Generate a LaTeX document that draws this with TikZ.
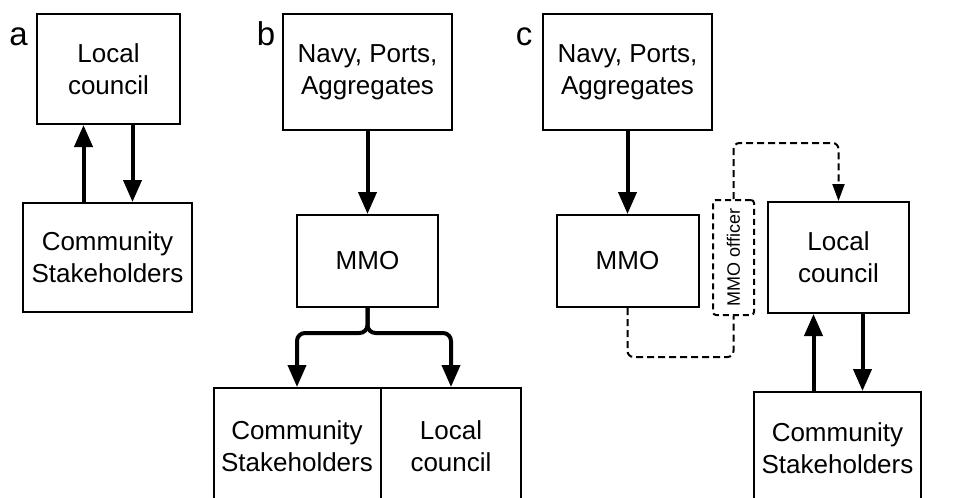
\documentclass[tikz,border=0pt]{standalone}
\usepackage{fontspec}
\setmainfont{Liberation Sans}
\usetikzlibrary{arrows.meta,positioning}

\begin{document}
\begin{tikzpicture}[x=1pt, y=-1pt,
    block/.style={rectangle, draw, line width=2pt, align=center, inner sep=0pt, font=\fontsize{26}{32}\selectfont},
    officer/.style={block, dash pattern=on 6pt off 4pt, rounded corners=3pt},
    arrow/.style={-{Triangle[length=22pt, width=18pt]}, line width=4pt},
    dashline/.style={line width=2pt, dash pattern=on 7pt off 4pt, rounded corners=6pt},
    dasharrow/.style={dashline, -{Triangle[length=17pt, width=12pt]}},
    panel/.style={anchor=base, font=\fontsize{33}{36}\selectfont}]

    \clip (0,0) rectangle (970,498);

    % panel a
    \node[panel] (labA) at (18.5,45) {a};
    \node[block, minimum width=143pt, minimum height=110pt] (councilA) at (108.5,69) {Local\\council};
    \node[block, minimum width=169pt, minimum height=109pt] (stakeA) at (107.5,257.5) {Community\\Stakeholders};
    \draw[arrow] ([xshift=-25pt]councilA.south |- stakeA.north) -- ([xshift=-25pt]councilA.south);
    \draw[arrow] ([xshift=24pt]councilA.south) -- ([xshift=24pt]councilA.south |- stakeA.north);

    % panel b
    \node[panel] (labB) at (266,45) {b};
    \node[block, minimum width=169pt, minimum height=116pt] (navyB) at (367.5,72) {Navy, Ports,\\Aggregates};
    \node[block, minimum width=141pt, minimum height=92pt] (mmoB) at (367.5,261) {MMO};
    \node[block, minimum width=167pt, minimum height=116pt] (stakeB) at (297,446) {Community\\Stakeholders};
    \node[block, minimum width=140pt, minimum height=116pt] (councilB) at (451,446) {Local\\council};
    \coordinate (splitB) at (367.5,333);
    \draw[arrow] (navyB) -- (mmoB);
    \draw[arrow, rounded corners=8pt] (mmoB.south) -- (splitB) -| (stakeB.north);
    \draw[arrow, rounded corners=8pt] (mmoB.south) -- (splitB) -| (councilB.north);

    % panel c
    \node[panel] (labC) at (524,45) {c};
    \node[block, minimum width=169pt, minimum height=116pt] (navyC) at (627.5,72) {Navy, Ports,\\Aggregates};
    \node[block, minimum width=142pt, minimum height=92pt] (mmoC) at (627.5,261) {MMO};
    \node[officer, minimum width=41pt, minimum height=115pt] (officerC) at (733.5,257.5) {\rotatebox{90}{\fontsize{18}{20}\selectfont MMO officer}};
    \node[block, minimum width=141pt, minimum height=111pt] (councilC) at (838.5,257.5) {Local\\council};
    \node[block, minimum width=167pt, minimum height=113pt] (stakeC) at (837.5,448.5) {Community\\Stakeholders};
    \draw[arrow] (navyC) -- (mmoC);
    \draw[dashline] (mmoC.south) -- ++(0,49) -| (officerC.south);
    \draw[dasharrow] (officerC.north) |- ([yshift=58pt]councilC.north) -- (councilC.north);
    \draw[arrow] ([xshift=-25pt]councilC.south |- stakeC.north) -- ([xshift=-25pt]councilC.south);
    \draw[arrow] ([xshift=24pt]councilC.south) -- ([xshift=24pt]councilC.south |- stakeC.north);
\end{tikzpicture}
\end{document}
